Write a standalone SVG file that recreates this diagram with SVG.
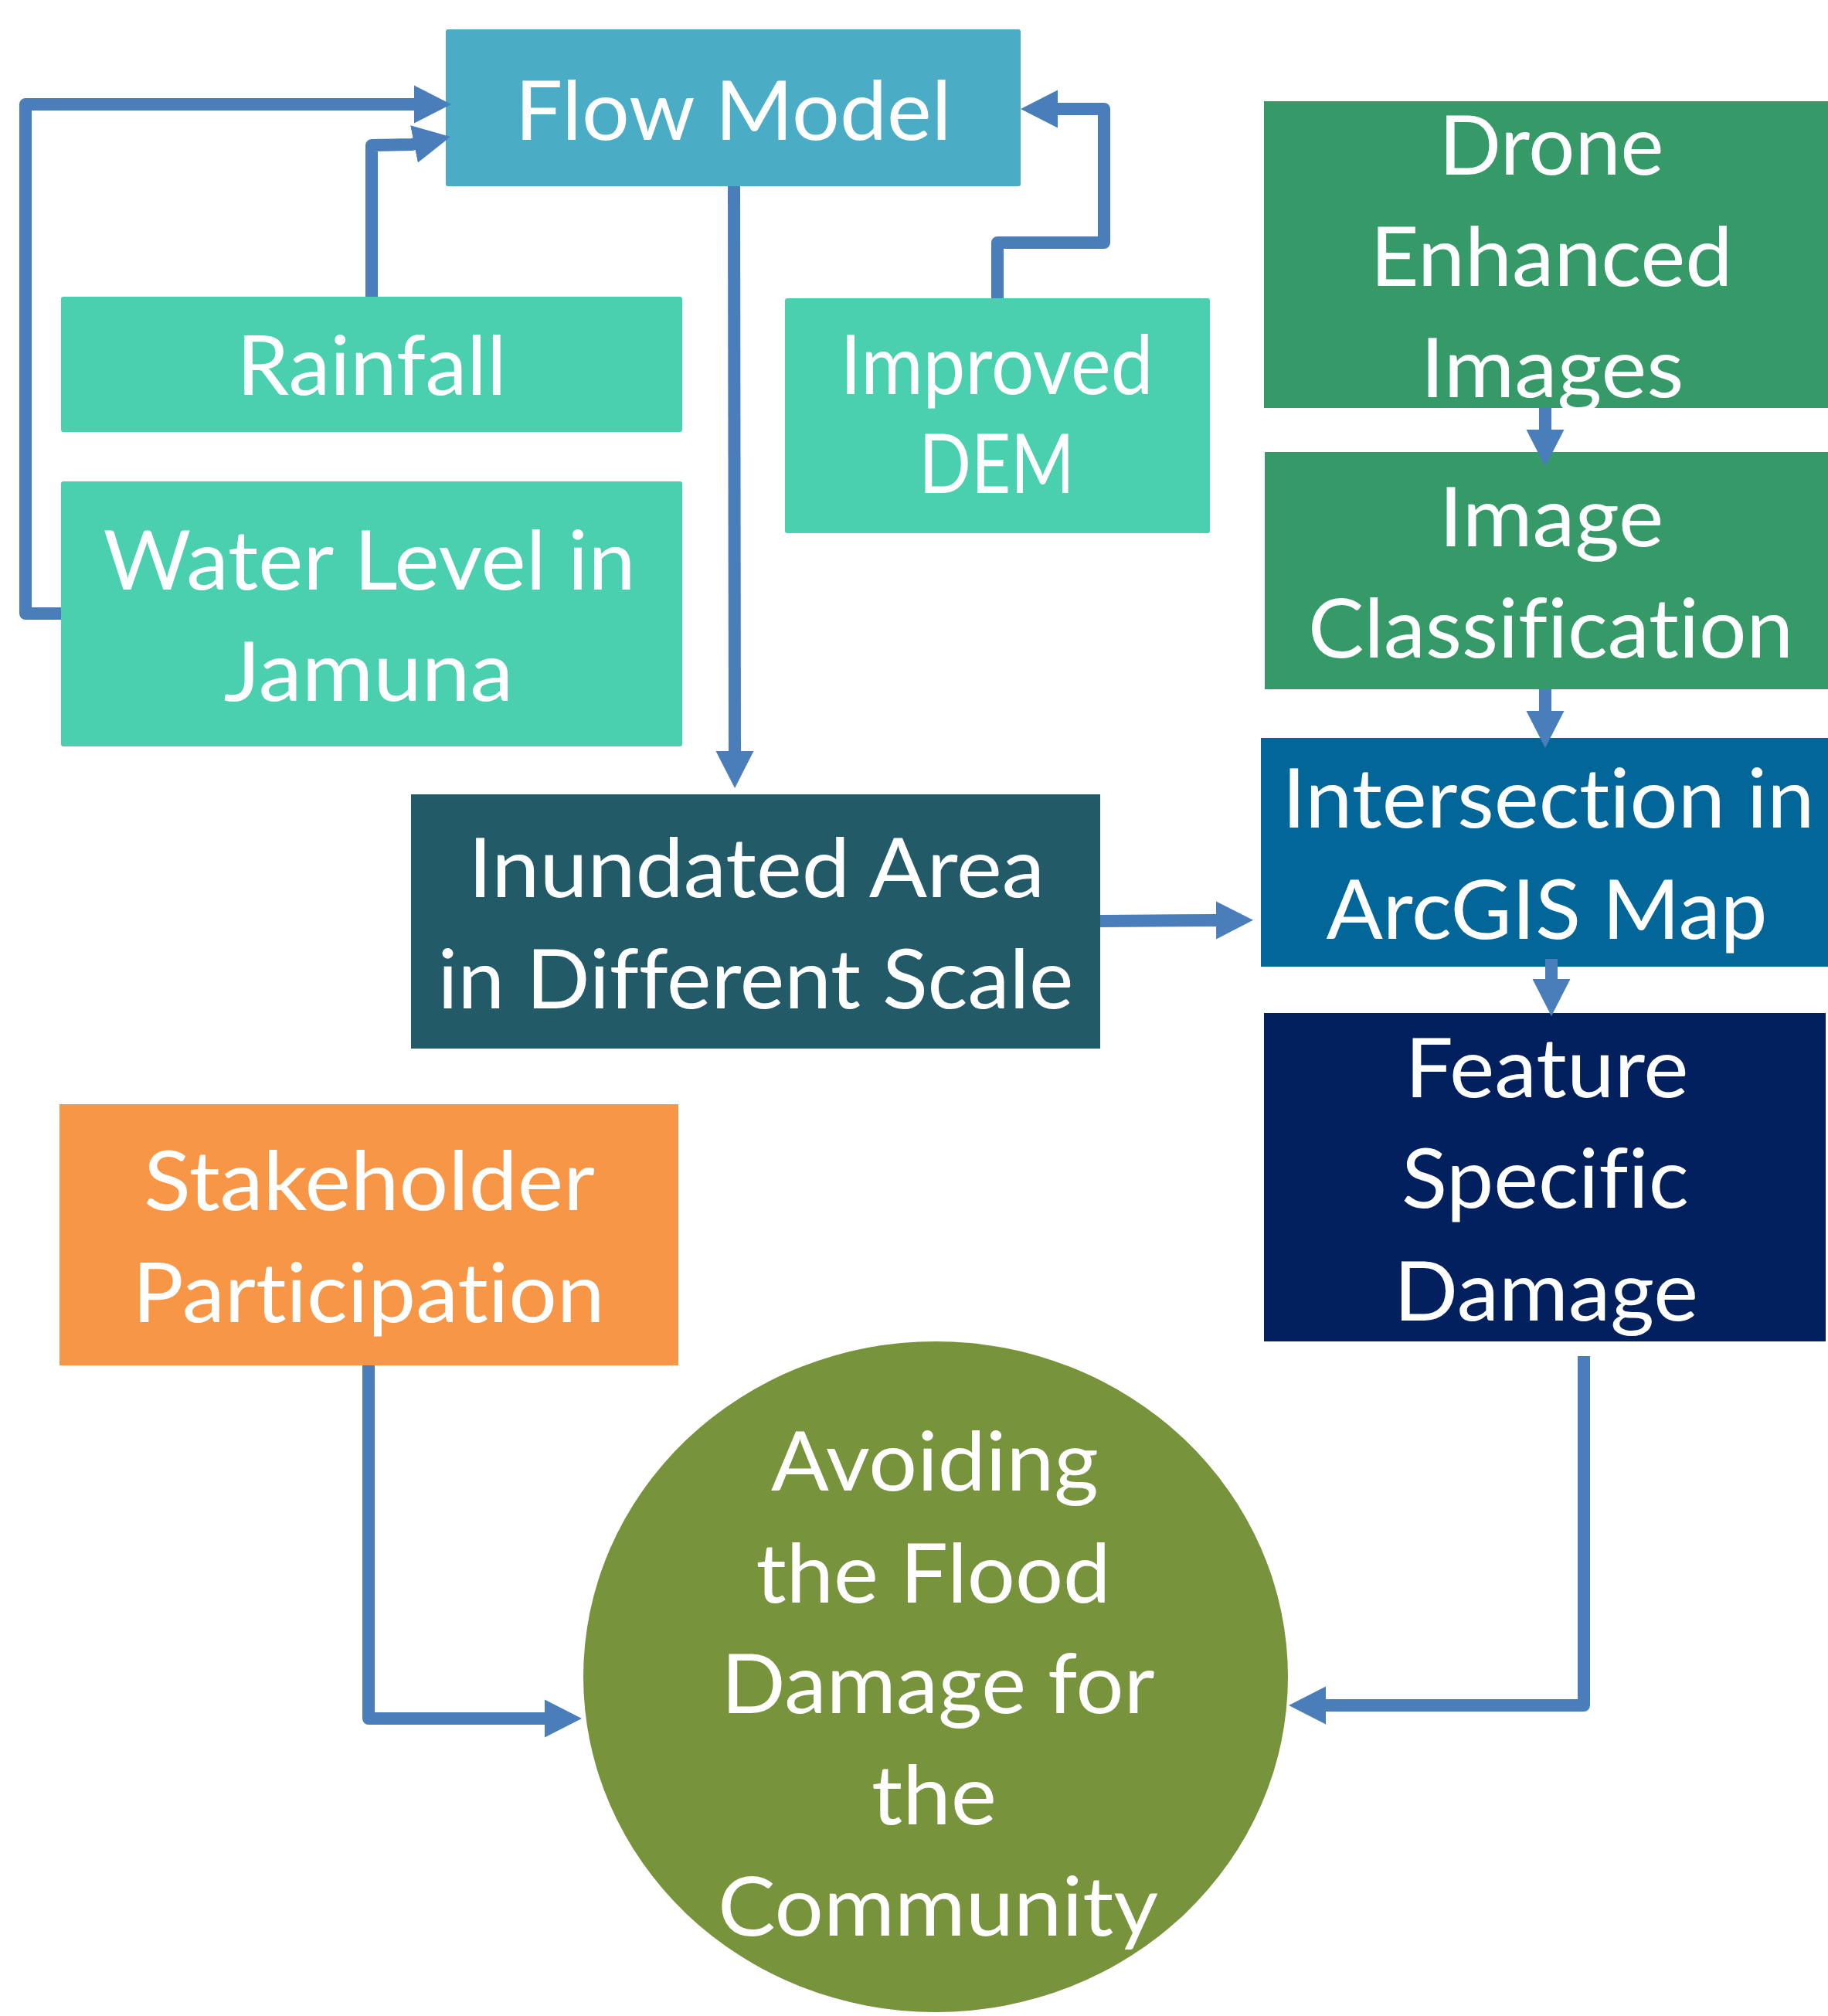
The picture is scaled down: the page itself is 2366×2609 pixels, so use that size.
<svg xmlns="http://www.w3.org/2000/svg" width="2366" height="2609" viewBox="0 0 2366 2609">
<style>
.t{font-family:Lato,"Open Sans","Liberation Sans",sans-serif;font-size:106px;fill:#fff;text-anchor:middle;font-variant-ligatures:none}
.c{fill:none;stroke:#4A7EBB;stroke-width:16;stroke-linejoin:round}
</style>
<defs>
<marker id="ah" markerUnits="userSpaceOnUse" markerWidth="48" markerHeight="50" refX="1" refY="24" orient="auto" viewBox="0 0 47 48">
<path d="M0,0 L47,24 L0,48 z" fill="#4A7EBB"/>
</marker>
</defs>
<rect width="2366" height="2609" fill="#fff"/>
<g id="flow-model"><rect x="577" y="38" width="744" height="203" rx="3" fill="#4BACC6"/><text class="t" x="949" y="181" textLength="565" lengthAdjust="spacingAndGlyphs">Flow Model</text></g>
<g id="rainfall"><rect x="79" y="384" width="804" height="175" rx="3" fill="#4ACFAF"/><text class="t" x="481" y="511" textLength="349" lengthAdjust="spacingAndGlyphs">Rainfall</text></g>
<g id="water-level"><rect x="79" y="623" width="804" height="343" rx="3" fill="#4ACFAF"/><text class="t" x="478" y="763" textLength="689" lengthAdjust="spacingAndGlyphs">Water Level in</text><text class="t" x="477" y="907" textLength="375" lengthAdjust="spacingAndGlyphs">Jamuna</text></g>
<g id="improved-dem"><rect x="1016" y="386" width="550" height="304" rx="3" fill="#4ACFAF"/><text class="t" x="1290" y="510" textLength="405" lengthAdjust="spacingAndGlyphs">Improved</text><text class="t" x="1290" y="638" textLength="201" lengthAdjust="spacingAndGlyphs">DEM</text></g>
<g id="drone"><rect x="1636" y="131" width="730" height="397" fill="#359A68"/><text class="t" x="2008" y="226" textLength="291" lengthAdjust="spacingAndGlyphs">Drone</text><text class="t" x="2008" y="370" textLength="469" lengthAdjust="spacingAndGlyphs">Enhanced</text><text class="t" x="2009" y="514" textLength="341" lengthAdjust="spacingAndGlyphs">Images</text></g>
<g id="image-classification"><rect x="1637" y="585" width="729" height="307" fill="#359A68"/><text class="t" x="2008" y="707" textLength="291" lengthAdjust="spacingAndGlyphs">Image</text><text class="t" x="2007" y="851" textLength="628" lengthAdjust="spacingAndGlyphs">Classification</text></g>
<g id="intersection"><rect x="1632" y="955" width="734" height="296" fill="#026699"/><text class="t" x="2004" y="1071" textLength="689" lengthAdjust="spacingAndGlyphs">Intersection in</text><text class="t" x="2002" y="1215" textLength="571" lengthAdjust="spacingAndGlyphs">ArcGIS Map</text></g>
<g id="feature-damage"><rect x="1636" y="1311" width="727" height="425" fill="#02205E"/><text class="t" x="2002" y="1420" textLength="367" lengthAdjust="spacingAndGlyphs">Feature</text><text class="t" x="2000" y="1563" textLength="372" lengthAdjust="spacingAndGlyphs">Specific</text><text class="t" x="2001" y="1709" textLength="394" lengthAdjust="spacingAndGlyphs">Damage</text></g>
<g id="inundated"><rect x="532" y="1028" width="892" height="329" fill="#225A68"/><text class="t" x="979" y="1161" textLength="746" lengthAdjust="spacingAndGlyphs">Inundated Area</text><text class="t" x="978" y="1305" textLength="823" lengthAdjust="spacingAndGlyphs">in Different Scale</text></g>
<g id="stakeholder"><rect x="77" y="1429" width="801" height="338" fill="#F79646"/><text class="t" x="478" y="1566" textLength="584" lengthAdjust="spacingAndGlyphs">Stakeholder</text><text class="t" x="477" y="1711" textLength="611" lengthAdjust="spacingAndGlyphs">Participation</text></g>
<g id="avoiding"><ellipse cx="1211" cy="2170" rx="456" ry="434" fill="#77933C"/><text class="t" x="1210" y="1929" textLength="424" lengthAdjust="spacingAndGlyphs">Avoiding</text><text class="t" x="1208" y="2074" textLength="459" lengthAdjust="spacingAndGlyphs">the Flood</text><text class="t" x="1214" y="2217" textLength="561" lengthAdjust="spacingAndGlyphs">Damage for</text><text class="t" x="1209" y="2361" textLength="162" lengthAdjust="spacingAndGlyphs">the</text><text class="t" x="1214" y="2505" textLength="570" lengthAdjust="spacingAndGlyphs">Community</text></g>
<g id="connectors">
<path class="c" marker-end="url(#ah)" d="M79,794 H33 V135 H537"/>
<path class="c" marker-end="url(#ah)" d="M481,384 V188 L533,187 L537,186.2"/>
<path class="c" marker-end="url(#ah)" d="M1291,386 V314 H1429 V141 H1368"/>
<path class="c" marker-end="url(#ah)" d="M950,241 L951,973"/>
<path class="c" marker-end="url(#ah)" d="M1424,1192 L1575,1191"/>
<path class="c" marker-end="url(#ah)" d="M2000,528 V557"/>
<path class="c" marker-end="url(#ah)" d="M2000,892 V921"/>
<path class="c" marker-end="url(#ah)" d="M2008,1241 V1268"/>
<path class="c" marker-end="url(#ah)" d="M2050,1755 V2207 H1715"/>
<path class="c" marker-end="url(#ah)" d="M477,1767 V2224 H706"/>
</g>
</svg>
